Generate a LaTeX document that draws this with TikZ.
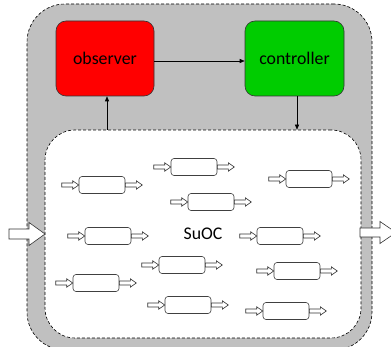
\documentclass[tikz,border=0pt]{standalone}
\usepackage{fontspec}
\setmainfont{Carlito}
\usetikzlibrary{arrows.meta}
\definecolor{sysgray}{RGB}{192,192,192}
\definecolor{obsred}{RGB}{255,0,0}
\definecolor{ctrlgreen}{RGB}{0,204,0}
\tikzset{
  outerbox/.style={draw=black, fill=sysgray, line width=0.6pt, dash pattern=on 3pt off 2pt, rounded corners=38pt, minimum width=345pt, minimum height=346pt, inner sep=0pt},
  innerbox/.style={draw=black, fill=white, line width=0.6pt, dash pattern=on 3pt off 2pt, rounded corners=30pt, minimum width=316pt, minimum height=208pt, inner sep=0pt},
  mainbox/.style={draw=black!80, line width=0.6pt, rounded corners=10pt, minimum width=98pt, minimum height=75pt, inner sep=0pt, font=\fontsize{17.8}{20}\selectfont},
  unitbox/.style={draw=black!75, fill=white, line width=0.6pt, rounded corners=3pt, minimum width=46pt, minimum height=17pt, inner sep=0pt},
  blk/.style={draw=black!80, fill=white, line width=0.6pt, line join=miter},
  conn/.style={draw=black, line width=0.6pt, -{Triangle[length=5pt,width=4pt]}},
  lbl/.style={font=\fontsize{17.8}{20}\selectfont, inner sep=0pt}
}
\newcommand\sysunit[3]{%
  \node[unitbox] (#1) at (#2,#3) {};
  \draw[blk] ([xshift=-17pt]#1.west) ++(0,-2) -- ++(11,0) -- ++(0,-2.2) -- ++(6,4.2) -- ++(-6,4.2) -- ++(0,-2.2) -- ++(-11,0) -- cycle;
  \draw[blk] (#1.east) ++(0,-2) -- ++(11,0) -- ++(0,-2.2) -- ++(6,4.2) -- ++(-6,4.2) -- ++(0,-2.2) -- ++(-11,0) -- cycle;
}
\begin{document}
\begin{tikzpicture}[x=1pt,y=-1pt]
\useasboundingbox (0,0) rectangle (391,347);
\clip (0,0) rectangle (391,347);
\node[outerbox] (sys) at (199.5,177) {};
\node[innerbox] (suoc) at (203,234) {};
\node[mainbox, fill=obsred] (obs) at (105,58.5) {observer};
\node[mainbox, fill=ctrlgreen, minimum width=99pt] (ctrl) at (294.5,58.5) {controller};
\node[lbl] (suoclbl) at (203,234) {SuOC};
% connectors
\draw[conn] ([yshift=-2.5pt]obs.east) -- ([yshift=-2.5pt]ctrl.west);
\coordinate (obsin) at ([xshift=2pt]obs.south);
\draw[conn] (obsin |- suoc.north) -- (obsin);
\coordinate (ctrlout) at ([xshift=2.5pt]ctrl.south);
\draw[conn] (ctrlout) -- (ctrlout |- suoc.north);
% system input / output block arrows
\draw[blk] (9,229) -- (29,229) -- (29,222.5) -- (45,234) -- (29,245.5) -- (29,239) -- (9,239) -- cycle;
\draw[blk] (360,228) -- (380,228) -- (380,221.5) -- (396,232.5) -- (380,243.5) -- (380,237) -- (360,237) -- cycle;
% components
\sysunit{u1}{102}{185}
\sysunit{u2}{194}{167}
\sysunit{u3}{309}{179}
\sysunit{u4}{211}{202}
\sysunit{u5}{108}{236}
\sysunit{u6}{280}{236}
\sysunit{u7}{182}{265}
\sysunit{u8}{297}{271}
\sysunit{u9}{96}{283}
\sysunit{u10}{188}{305}
\sysunit{u11}{286}{311}
\end{tikzpicture}
\end{document}
